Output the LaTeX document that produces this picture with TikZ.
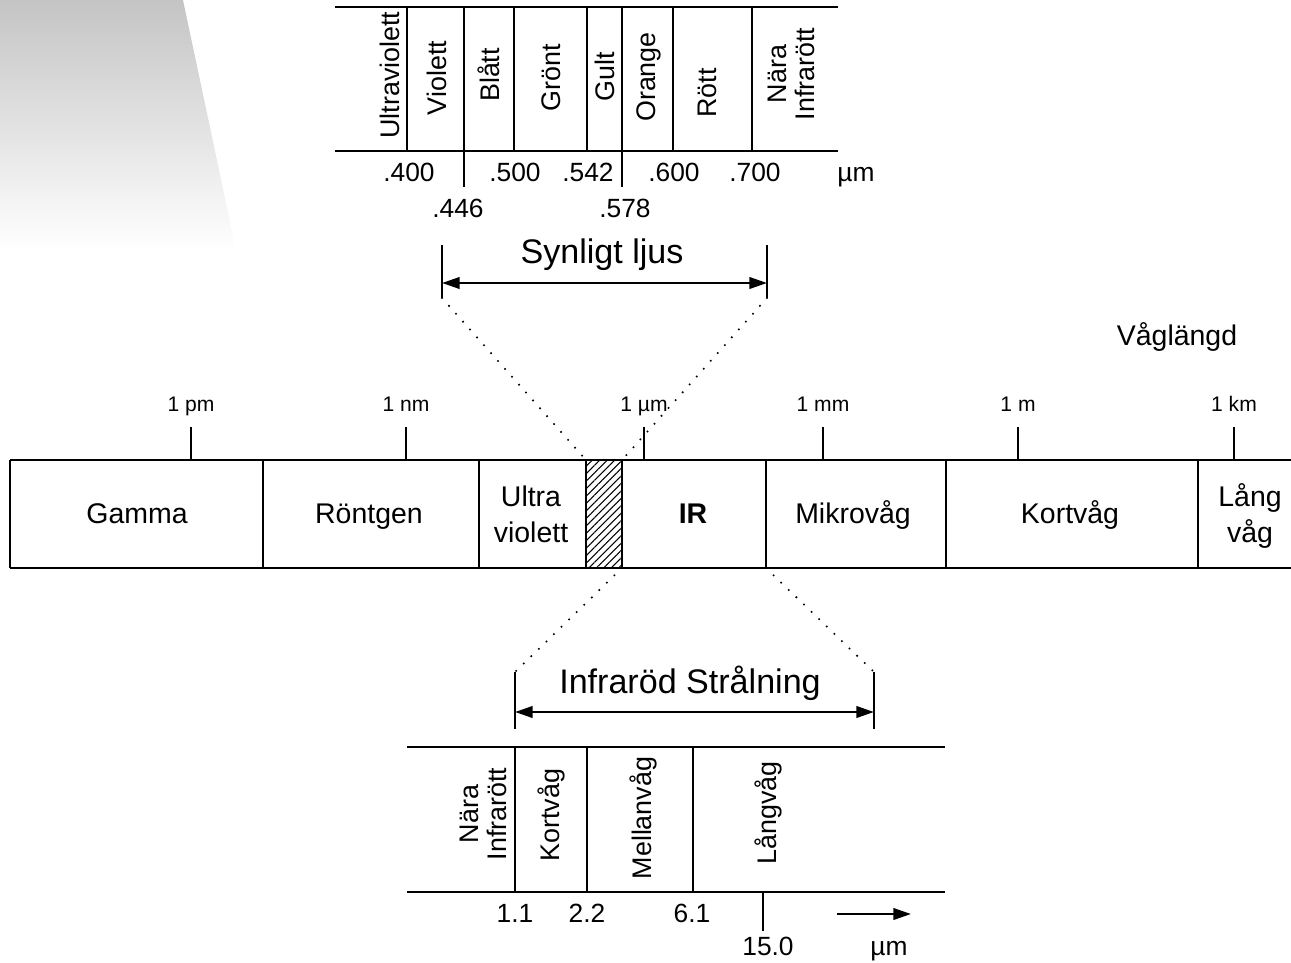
\documentclass[tikz,border=0pt]{standalone}
\usepackage{fontspec}
\setmainfont{Liberation Sans}
\usetikzlibrary{arrows.meta,patterns.meta,positioning}

\tikzset{
  rule/.style={line width=1.4pt},
  tick/.style={line width=1.1pt},
  dotline/.style={line width=1.3pt, line cap=round, dash pattern=on 0pt off 6pt},
  spanarrow/.style={line width=1.4pt, {Triangle[length=10pt,width=6.5pt]}-{Triangle[length=10pt,width=6.5pt]}},
  vlab/.style={rotate=90, font=\fontsize{15.3}{16}\selectfont, align=center, inner sep=0pt},
  barlab/.style={font=\fontsize{16.2}{20.5}\selectfont, align=center, inner sep=0pt},
  ticklab/.style={font=\fontsize{12}{14}\selectfont, inner sep=0pt, anchor=base},
  numlab/.style={font=\fontsize{15}{17}\selectfont, inner sep=0pt, anchor=base},
  spantitle/.style={font=\fontsize{19.4}{22}\selectfont, inner sep=0pt, anchor=base},
}

\begin{document}
\begin{tikzpicture}[x=0.02cm,y=-0.02cm]
\useasboundingbox (0,0) rectangle (1291,963);

% grey fade in the corner
\shade[top color=black!23, bottom color=white] (0,0) -- (183,0) -- (236,250) -- (0,250) -- cycle;

% ---- visible light strip ----
\draw[rule] (335,7) -- (838,7);
\draw[rule] (335,151) -- (838,151);
\foreach \x in {407,514,587,673,752}
  \draw[rule] (\x,7) -- (\x,151);
\foreach \x in {464,622}
  \draw[rule] (\x,7) -- (\x,187);

\foreach \x/\y/\t [count=\i] in {390/75/Ultraviolett, 437/78/Violett, 489/75/Blått,
    551/78/Grönt, 605/77/Gult, 649/77/Orange, 707/93/Rött, 791/74/{Nära\\Infrarött}}
  \node[vlab] (vis\i) at (\x,\y) {\t};

\foreach \x/\y/\t [count=\i] in {409/181/.400, 458/217/.446, 515/181/.500, 588/181/.542,
    625/217/.578, 674/181/.600, 755/181/.700}
  \node[numlab] (vnum\i) at (\x,\y) {\t};
\node[numlab] (vunit) at (856,181) {µm};

% ---- visible span ----
\coordinate (visL) at (442,298);
\coordinate (visR) at (767,298);
\draw[tick] (442,245) -- (visL);
\draw[tick] (767,245) -- (visR);
\draw[spanarrow] (442,283) -- (767,283);
\node[spantitle] (vistitle) at (602,263) {Synligt ljus};

\node[barlab, anchor=base] (wl) at (1177,345) {Våglängd};

% ---- main spectrum bar ----
\draw[rule] (10,460) -- (1291,460);
\draw[rule] (10,568) -- (1291,568);
\foreach \x in {10,263,479,586,622,766,946,1198}
  \draw[rule] (\x,460) -- (\x,568);
\coordinate (hatchTL) at (586,460);
\coordinate (hatchTR) at (622,460);
\coordinate (hatchBR) at (622,568);
\coordinate (irBR) at (766,568);
\fill[pattern={Lines[angle=45,distance=3pt,line width=0.6pt]}] (hatchTL) rectangle (hatchBR);
\draw[rule] (hatchTL) rectangle (hatchBR);

\foreach \x/\t [count=\i] in {191/1 pm, 406/1 nm, 644/1 µm, 823/1 mm, 1018/1 m, 1234/1 km} {
  \draw[tick] (\x,427) -- (\x,460);
  \node[ticklab] (tk\i) at (\x,411) {\t};
}

\foreach \x/\t [count=\i] in {137/Gamma, 369/Röntgen, 853/Mikrovåg, 1070/Kortvåg}
  \node[barlab, anchor=base] (band\i) at (\x,523) {\t};
\node[barlab] (uv) at (531,514) {Ultra\\violett};
\node[barlab] (lw) at (1250,516) {Lång\\våg};
\node[barlab, anchor=base, font=\fontsize{16.2}{20.5}\selectfont\bfseries] (ir) at (693,523) {IR};

\draw[dotline] (visL) -- (hatchTL);
\draw[dotline] (visR) -- (hatchTR);

% ---- infrared span ----
\coordinate (irL) at (515,672);
\coordinate (irR) at (874,672);
\draw[dotline] (hatchBR) -- (irL);
\draw[dotline] (irBR) -- (irR);
\draw[tick] (irL) -- (515,729);
\draw[tick] (irR) -- (874,729);
\draw[spanarrow] (515,712) -- (874,712);
\node[spantitle] (irtitle) at (690,693) {Infraröd Strålning};

% ---- infrared strip ----
\draw[rule] (407,747) -- (945,747);
\draw[rule] (407,892) -- (945,892);
\foreach \x in {515,587,693}
  \draw[rule] (\x,747) -- (\x,892);
\draw[rule] (763,892) -- (763,931);

\foreach \x/\y/\t [count=\i] in {483/814/{Nära\\Infrarött}, 551/815/Kortvåg,
    643/818/Mellanvåg, 768/813/Långvåg}
  \node[vlab] (irb\i) at (\x,\y) {\t};

\foreach \x/\y/\t [count=\i] in {515/922/1.1, 587/922/2.2, 692/922/6.1, 768/955/15.0}
  \node[numlab] (inum\i) at (\x,\y) {\t};
\node[numlab] (iunit) at (889,955) {µm};
\coordinate (dirA) at (837,914);
\coordinate (dirB) at (911,914);
\draw[line width=1.4pt, -{Triangle[length=10pt,width=6.5pt]}] (dirA) -- (dirB);
\end{tikzpicture}
\end{document}
